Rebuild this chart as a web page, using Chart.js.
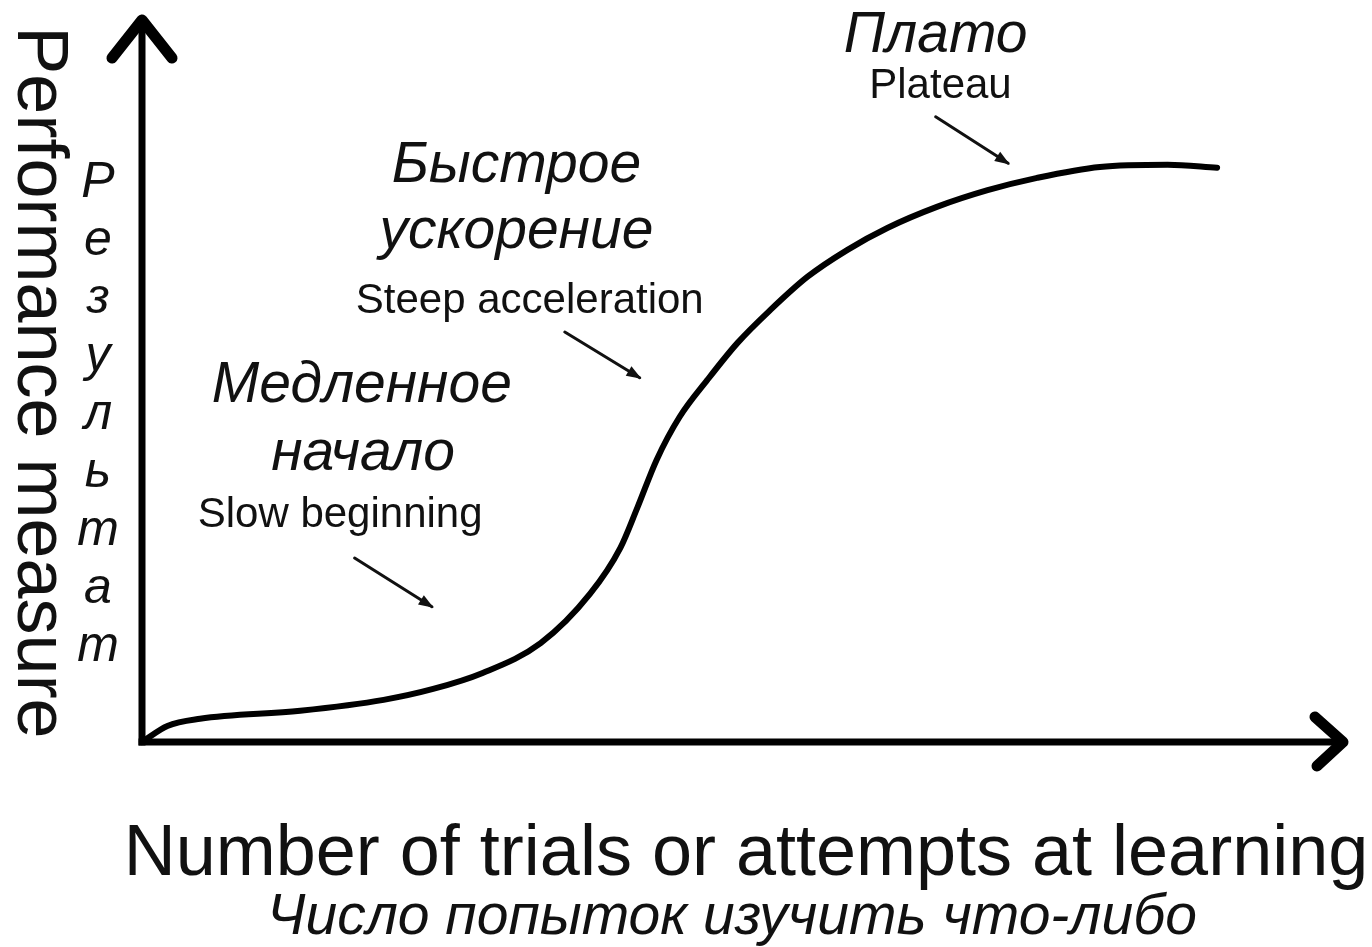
<!DOCTYPE html>
<html>
<head>
<meta charset="utf-8">
<script src="https://cdn.jsdelivr.net/npm/chart.js@4"></script>
<style>
  html, body { margin: 0; padding: 0; background: #ffffff; }
  #wrap { width: 1372px; height: 947px; }
</style>
</head>
<body>
<div id="wrap"><canvas id="c" width="1372" height="947"></canvas></div>
<script>
// ---- data (x: trials, y: performance, arbitrary units 0..10) ----
const trials      = [0, 0.21, 0.48, 1.31, 2.00, 2.41, 2.82, 3.30, 3.71, 3.96, 4.10, 4.26, 4.45, 4.68, 4.93, 5.20, 5.51, 5.84, 6.17, 6.58, 7.00, 7.41, 7.93, 8.49, 8.90];
const performance = [0, 0.22, 0.32, 0.43, 0.58, 0.73, 0.95, 1.36, 2.04, 2.67, 3.22, 3.88, 4.47, 4.98, 5.49, 5.94, 6.40, 6.77, 7.07, 7.36, 7.59, 7.76, 7.91, 7.94, 7.90];

const xTitle   = "Number of trials or attempts at learning";
const xTitleRu = "Число попыток изучить что-либо";
const yTitle   = "Performance measure";
const yTitleRu = "Результат";

// annotation labels (text, anchor in data units)
const noteTexts = ["Плато", "Plateau", "Быстрое", "ускорение", "Steep acceleration", "Медленное", "начало", "Slow beginning"];
const noteRu    = [true, false, true, true, false, true, true, false];
const noteX     = [6.57, 6.61, 3.10, 3.10, 3.21, 1.82, 1.83, 1.64];
const noteY     = [9.49, 8.86, 7.70, 6.80, 5.90, 4.68, 3.74, 2.96];
// pointer arrows (from -> to, data units)
const arrowFromX = [6.57, 3.50, 1.76];
const arrowFromY = [8.60, 5.64, 2.53];
const arrowToX   = [7.17, 4.12, 2.40];
const arrowToY   = [7.96, 5.01, 1.86];

const FONT = '"Liberation Sans", Arial, "DejaVu Sans", sans-serif';
const INK = '#111111';

const drawing = {
  id: 'drawing',
  beforeDatasetsDraw(chart) {
    const ctx = chart.ctx;
    const a = chart.chartArea;
    const xs = chart.scales.x, ys = chart.scales.y;
    const x0 = xs.getPixelForValue(0), y0 = ys.getPixelForValue(0);
    ctx.save();
    ctx.strokeStyle = '#000';
    ctx.lineCap = 'square';
    ctx.lineWidth = 7;
    // y axis
    ctx.beginPath();
    ctx.moveTo(x0, y0);
    ctx.lineTo(x0, a.top + 6);
    ctx.stroke();
    // x axis
    ctx.beginPath();
    ctx.moveTo(x0, y0);
    ctx.lineTo(a.right - 8, y0);
    ctx.stroke();
    // arrow heads
    ctx.lineWidth = 11;
    ctx.lineCap = 'round';
    ctx.lineJoin = 'round';
    ctx.beginPath();
    ctx.moveTo(x0 - 30, a.top + 43);
    ctx.lineTo(x0, a.top + 5);
    ctx.lineTo(x0 + 30, a.top + 43);
    ctx.stroke();
    ctx.beginPath();
    ctx.moveTo(a.right - 35, y0 - 25);
    ctx.lineTo(a.right - 7, y0);
    ctx.lineTo(a.right - 33, y0 + 24);
    ctx.stroke();
    ctx.restore();
  },
  afterDatasetsDraw(chart) {
    const ctx = chart.ctx;
    const a = chart.chartArea;
    const xs = chart.scales.x, ys = chart.scales.y;
    ctx.save();
    ctx.fillStyle = INK;
    ctx.strokeStyle = INK;
    ctx.textBaseline = 'alphabetic';
    ctx.textAlign = 'center';

    // annotations
    for (let i = 0; i < noteTexts.length; i++) {
      ctx.font = noteRu[i] ? ('italic 57px ' + FONT) : ('42px ' + FONT);
      ctx.fillText(noteTexts[i], xs.getPixelForValue(noteX[i]), ys.getPixelForValue(noteY[i]));
    }
    // arrows
    for (let i = 0; i < arrowFromX.length; i++) {
      const fx = xs.getPixelForValue(arrowFromX[i]), fy = ys.getPixelForValue(arrowFromY[i]);
      const tx = xs.getPixelForValue(arrowToX[i]),   ty = ys.getPixelForValue(arrowToY[i]);
      ctx.lineWidth = 3;
      ctx.lineCap = 'round';
      ctx.beginPath();
      ctx.moveTo(fx, fy);
      ctx.lineTo(tx, ty);
      ctx.stroke();
      const ang = Math.atan2(ty - fy, tx - fx);
      const L = 13, W = 5.5;
      ctx.beginPath();
      ctx.moveTo(tx + 2 * Math.cos(ang), ty + 2 * Math.sin(ang));
      ctx.lineTo(tx - L * Math.cos(ang) + W * Math.sin(ang), ty - L * Math.sin(ang) - W * Math.cos(ang));
      ctx.lineTo(tx - L * Math.cos(ang) - W * Math.sin(ang), ty - L * Math.sin(ang) + W * Math.cos(ang));
      ctx.closePath();
      ctx.fill();
    }

    // x axis titles
    const cx = (a.left + a.right) / 2;
    ctx.font = '72px ' + FONT;
    ctx.fillText(xTitle, cx, a.bottom + 133);
    ctx.font = 'italic 57px ' + FONT;
    ctx.fillText(xTitleRu, cx - 14, a.bottom + 192);

    // y axis title (rotated, reading downward)
    const cy = (a.top + a.bottom) / 2;
    ctx.save();
    ctx.translate(18, cy + 4);
    ctx.rotate(Math.PI / 2);
    ctx.font = '72px ' + FONT;
    ctx.fillText(yTitle, 0, 0);
    ctx.restore();

    // stacked Russian letters
    ctx.font = 'italic 50px ' + FONT;
    const letters = Array.from(yTitleRu);
    for (let i = 0; i < letters.length; i++) {
      ctx.fillText(letters[i], 98, a.top + 182 + i * 58);
    }
    ctx.restore();
  }
};

new Chart(document.getElementById('c'), {
  type: 'line',
  data: {
    datasets: [{
      data: trials.map((t, i) => ({ x: t, y: performance[i] })),
      borderColor: '#000',
      borderWidth: 6,
      borderCapStyle: 'round',
      borderJoinStyle: 'round',
      cubicInterpolationMode: 'monotone',
      pointRadius: 0,
      fill: false,
      clip: false
    }]
  },
  options: {
    responsive: false,
    animation: false,
    devicePixelRatio: 1,
    layout: { padding: { left: 142, right: 22, top: 15, bottom: 205 } },
    plugins: { legend: { display: false }, title: { display: false }, tooltip: { enabled: false } },
    scales: {
      x: { type: 'linear', min: 0, max: 10, display: false },
      y: { type: 'linear', min: 0, max: 10, display: false }
    }
  },
  plugins: [drawing]
});
</script>
</body>
</html>
